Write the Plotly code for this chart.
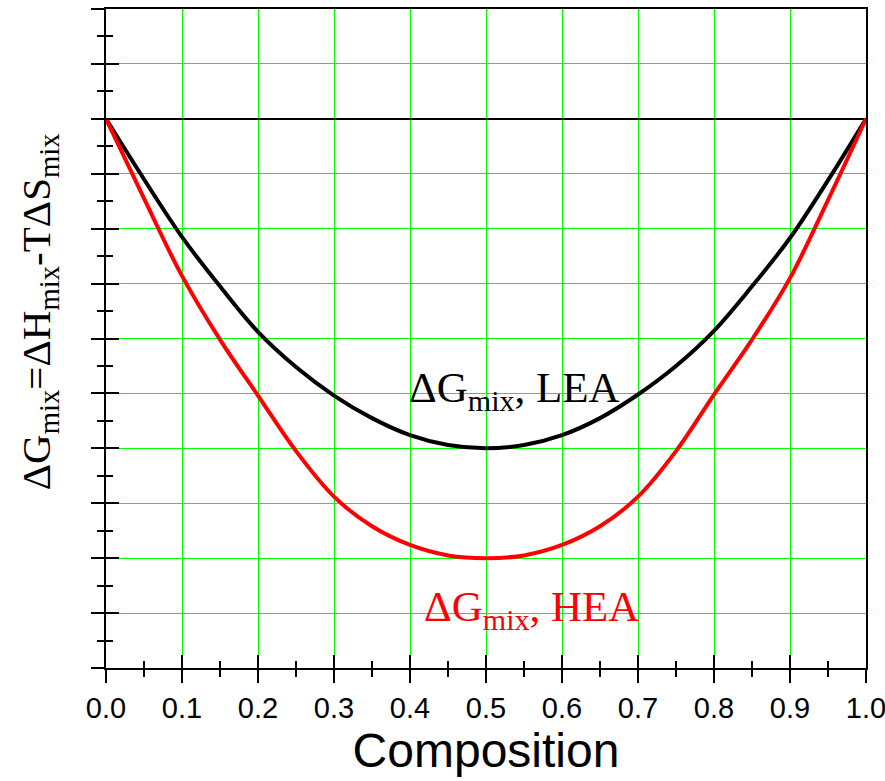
import plotly.graph_objects as go

composition = [0.0, 0.05, 0.1, 0.15, 0.2, 0.25, 0.3, 0.35, 0.4, 0.45, 0.5,
               0.55, 0.6, 0.65, 0.7, 0.75, 0.8, 0.85, 0.9, 0.95, 1.0]
dg_lea = [0.0, -1.1, -2.15, -3.05, -3.88, -4.52, -5.04, -5.45, -5.76, -5.94, -6.0,
          -5.94, -5.76, -5.45, -5.02, -4.5, -3.86, -3.05, -2.17, -1.12, 0.0]
dg_hea = [0.0, -1.45, -2.86, -4.02, -5.04, -6.05, -6.88, -7.42, -7.76, -7.95, -8.0,
          -7.95, -7.76, -7.42, -6.88, -6.05, -5.02, -4.02, -2.9, -1.48, 0.0]

x_tick_vals = [0.0, 0.1, 0.2, 0.3, 0.4, 0.5, 0.6, 0.7, 0.8, 0.9, 1.0]
x_tick_text = ["0.0", "0.1", "0.2", "0.3", "0.4", "0.5", "0.6", "0.7", "0.8", "0.9", "1.0"]

narrow = "Liberation Sans Narrow, Arial Narrow, Liberation Sans, Arial"
serif = "Liberation Serif, Times New Roman, DejaVu Serif"

fig = go.Figure()
fig.add_trace(go.Scatter(x=composition, y=dg_lea, mode="lines",
                         line=dict(color="black", width=4, shape="spline"),
                         showlegend=False))
fig.add_trace(go.Scatter(x=composition, y=dg_hea, mode="lines",
                         line=dict(color="#ff0000", width=4, shape="spline"),
                         showlegend=False))
# invisible trace for the overlay axes (inner tick marks)
fig.add_trace(go.Scatter(x=[0], y=[0], xaxis="x2", yaxis="y2", mode="markers",
                         marker=dict(opacity=0), showlegend=False, hoverinfo="skip"))

fig.update_layout(
    width=885, height=781,
    margin=dict(l=106, r=19, t=9, b=113, autoexpand=False),
    paper_bgcolor="white", plot_bgcolor="white",
    xaxis=dict(range=[0, 1], tickvals=x_tick_vals, ticktext=x_tick_text,
               showgrid=True, gridcolor="#00ff00", gridwidth=1,
               ticks="outside", ticklen=13, tickwidth=2, tickcolor="black",
               minor=dict(dtick=0.05, tick0=0, ticks="outside", ticklen=7,
                          tickwidth=2, tickcolor="black", showgrid=False),
               showline=True, linecolor="black", linewidth=2, mirror=True,
               zeroline=False, ticklabeloverflow="allow", automargin=False,
               tickfont=dict(family=narrow, size=29, color="black"),
               title=dict(text="Composition",
                          font=dict(family=narrow, size=48, color="black"),
                          standoff=4)),
    yaxis=dict(range=[-10, 2], dtick=1, tick0=0,
               showgrid=True, gridcolor="#00ff00", gridwidth=1,
               ticks="outside", ticklen=13, tickwidth=2, tickcolor="black",
               minor=dict(dtick=0.5, tick0=0, ticks="outside", ticklen=7,
                          tickwidth=2, tickcolor="black", showgrid=False),
               showticklabels=False, automargin=False,
               showline=True, linecolor="black", linewidth=2, mirror=True,
               zeroline=True, zerolinecolor="black", zerolinewidth=1.5),
    xaxis2=dict(range=[0, 1], overlaying="x", side="bottom",
                tickvals=x_tick_vals, showticklabels=False, showgrid=False,
                ticks="inside", ticklen=13, tickwidth=2, tickcolor="black",
                minor=dict(dtick=0.05, tick0=0, ticks="inside", ticklen=7,
                           tickwidth=2, tickcolor="black", showgrid=False),
                showline=False, zeroline=False, automargin=False),
    yaxis2=dict(range=[-10, 2], overlaying="y", side="left", dtick=1, tick0=0,
                showticklabels=False, showgrid=False,
                ticks="inside", ticklen=13, tickwidth=2, tickcolor="black",
                minor=dict(dtick=0.5, tick0=0, ticks="inside", ticklen=7,
                           tickwidth=2, tickcolor="black", showgrid=False),
                showline=False, zeroline=False, automargin=False),
    annotations=[
        dict(text="ΔG<sub>mix</sub>=ΔH<sub>mix</sub>-TΔS<sub>mix</sub>",
             xref="paper", yref="paper", x=-0.088, y=0.54,
             xanchor="center", yanchor="middle", textangle=-90, showarrow=False,
             font=dict(family=serif, size=41, color="black")),
        dict(text="ΔG<sub>mix</sub>, LEA", xref="x", yref="y", x=0.537, y=-4.95,
             xanchor="center", yanchor="middle", showarrow=False,
             font=dict(family=serif, size=43, color="black")),
        dict(text="ΔG<sub>mix</sub>, HEA", xref="x", yref="y", x=0.56, y=-8.95,
             xanchor="center", yanchor="middle", showarrow=False,
             font=dict(family=serif, size=43, color="#ff0000")),
    ],
)

fig.write_html("out.html")
